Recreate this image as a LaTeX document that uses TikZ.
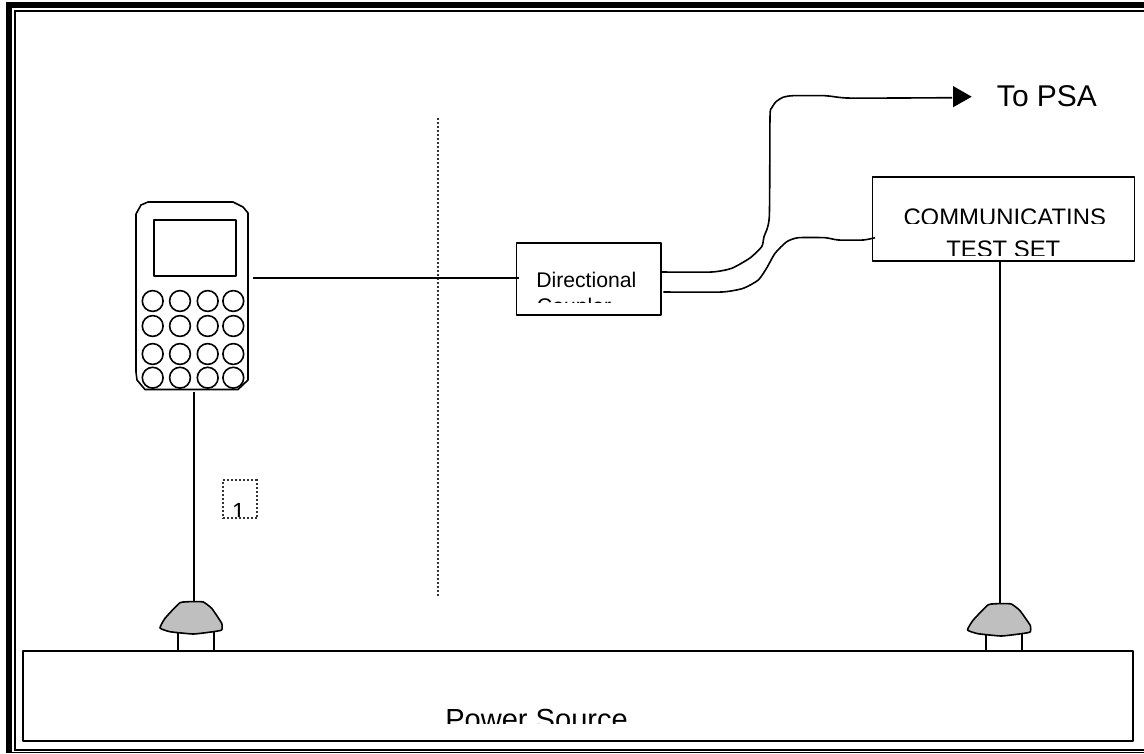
\documentclass[tikz,border=0pt]{standalone}
\usepackage{fontspec}
\setmainfont{Liberation Sans}
\usetikzlibrary{arrows.meta}
\tikzset{x=0.75pt,y=-0.75pt,
  lin/.style={line width=1.2pt,draw=black,line join=round},
  boxnode/.style={lin,fill=white,inner sep=0pt,anchor=north west},
  keyb/.style={circle,draw=black,line width=1.2pt,inner sep=0pt,minimum size=15.6pt},
  domeshape/.style={lin,fill=black!25},
  lbl/.style={inner sep=0pt,anchor=base west,text=black},
  lblc/.style={inner sep=0pt,anchor=base,text=black},
  dots/.style={line width=1.4pt,draw=black!80,dash pattern=on 1.5pt off 1.5pt}
}
\begin{document}
\begin{tikzpicture}
\useasboundingbox (0,0) rectangle (1144,753);
\fill[white] (0,0) rectangle (1144,753);
% page border
\fill[black] (6,2) rectangle (1144,8);
\fill[black] (6,2) rectangle (12,753);
\fill[black] (14,10) rectangle (1144,12);
\fill[black] (14,10) rectangle (16,750.5);
\fill[black] (14,749) rectangle (1144,750.5);
\fill[black] (6,751.7) rectangle (1144,753);
% phone
\draw[lin,fill=white] (148,202) -- (233,202) -- (243,207) -- (248,213) -- (248,380) -- (238,389.5) -- (145,389.5) -- (137,380) -- (136,372) -- (136,214) -- (141,205) -- cycle;
\node[boxnode,minimum width=61.5pt,minimum height=41.7pt] (screen) at (153.3,219.3) {};
\foreach \y/\r in {301/a,326/b,354/c,377.7/d}{
  \foreach \x/\c in {152.7/1,180/2,207.7/3,233.3/4}{
    \node[keyb] (k\r\c) at (\x,\y) {};
  }
}
\coordinate (phoneR) at (253.3,278);
\coordinate (phoneB) at (194,392);
% dotted divider
\coordinate (divT) at (438,118);
\coordinate (divB) at (438,597);
\draw[dots] (divT) -- (divB);
% power source
\node[boxnode,minimum width=832.5pt,minimum height=67.5pt] (power) at (22,650) {};
\begin{scope}
\clip (300,700) rectangle (800,723.3);
\node[lbl,font=\fontsize{21.8pt}{24pt}\selectfont] (powertext) at (445,729) {Power Source};
\end{scope}
% left dome
\coordinate (domeLT) at (194,602);
\coordinate (domeRT) at (1000,604);
\draw[lin] (177.7,631) -- (177.7,650);
\draw[lin] (213.7,631) -- (213.7,650);
\draw[domeshape] plot[smooth cycle,tension=0.25] coordinates {(180,602.7) (194,601.6) (203.3,602) (211.7,608.3) (221.7,623.3) (221.7,630) (213.3,631.7) (193.3,634) (170,631.7) (160,628) (165,618.3)};
% right dome
\draw[lin] (986,633) -- (986,650);
\draw[lin] (1022,633) -- (1022,650);
\draw[domeshape] plot[smooth cycle,tension=0.25] coordinates {(988.3,604.7) (1002,603.6) (1011.3,604) (1019.7,610.3) (1030.2,625.3) (1030.2,632) (1021.3,633.7) (1001.3,636) (978,633.7) (967.5,630) (973,620.3)};
% directional coupler
\node[boxnode,minimum width=108.5pt,minimum height=54pt] (coupler) at (515.7,242) {};
\begin{scope}
\clip (520,260) rectangle (655,302.7);
\node[lbl,font=\fontsize{15.9pt}{18pt}\selectfont] (couplertext) at (536,287.7) {Directional};
\node[lbl,font=\fontsize{15.9pt}{18pt}\selectfont] (couplertextb) at (536.7,313) {Coupler};
\end{scope}
% communications test set
\node[boxnode,minimum width=196.4pt,minimum height=63pt] (commset) at (871.7,176) {};
\begin{scope}
\clip (880,190) rectangle (1125,223.3);
\node[lblc,font=\fontsize{17.9pt}{20pt}\selectfont] (commtext) at (1004.7,225.5) {COMMUNICATINS};
\end{scope}
\begin{scope}
\clip (880,230) rectangle (1125,255.6);
\node[lblc,font=\fontsize{17.9pt}{20pt}\selectfont] (commtextb) at (1003.3,257.5) {TEST SET};
\end{scope}
% vertical connectors
\draw[lin] (commset.south west -| domeRT) -- (domeRT);
\draw[lin] (phoneB) -- (domeLT);
% phone to coupler
\draw[lin] (phoneR) -- (518.7,278);
% curves
\coordinate (psaTip) at (971.7,96.7);
\draw[lin] plot[smooth,tension=0.35] coordinates {(661,272) (711.7,272) (731.7,268.3) (750,258) (761.7,246.7) (764,236.7) (769.3,216.7) (770,116.7) (771.7,108) (776,101.7) (783,97.3) (792.7,95.7) (825,95.7) (846.7,98) (900,98) (952,97.7)};
\fill[black] (953,86) -- (psaTip) -- (953,107.3) -- cycle;
\draw[lin] plot[smooth,tension=0.35] coordinates {(663.3,292) (721.7,292) (743.3,288.3) (758.3,280) (766.7,268) (775,253.3) (786.7,241.7) (798.3,237.7) (825,237.7) (838.3,240) (863.3,240) (875,237.7)};
% To PSA
\node[lbl,font=\fontsize{22.5pt}{24pt}\selectfont] (topsa) at (996.7,106) {To PSA};
% note 1
\node[inner sep=0pt,anchor=north west,minimum width=25.7pt,minimum height=28.5pt,dots] (notebox) at (221.7,479.3) {};
\begin{scope}
\clip (225,495) rectangle (250,516.8);
\node[lblc,font=\fontsize{17.5pt}{20pt}\selectfont] (notetext) at (238.5,519.5) {1};
\end{scope}
\end{tikzpicture}
\end{document}
